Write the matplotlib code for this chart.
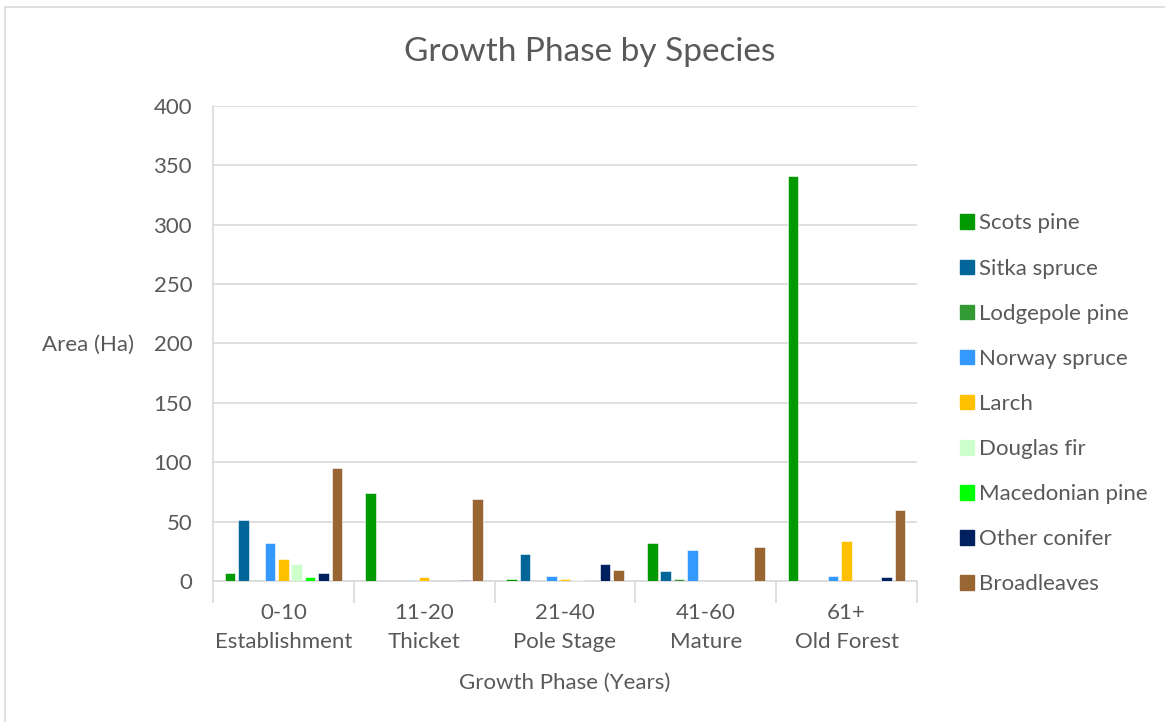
import matplotlib.pyplot as plt
import numpy as np
from matplotlib.patches import Rectangle

phases = ["0-10\nEstablishment", "11-20\nThicket", "21-40\nPole Stage", "41-60\nMature", "61+\nOld Forest"]
species = ["Scots pine", "Sitka spruce", "Lodgepole pine", "Norway spruce", "Larch",
           "Douglas fir", "Macedonian pine", "Other conifer", "Broadleaves"]
colours = ["#009900", "#006699", "#339933", "#3399FF", "#FFC000",
           "#CCFFCC", "#00FF00", "#002060", "#996633"]

# area (Ha) per species, one value per growth phase
scots_pine = [7, 74, 1.5, 32, 341]
sitka_spruce = [51, 0, 23, 8, 0]
lodgepole_pine = [1, 0, 0, 1.5, 0]
norway_spruce = [32, 0.5, 4, 26, 4]
larch = [18.5, 3.3, 1.8, 0, 34]
douglas_fir = [14, 0, 0.5, 0, 0.3]
macedonian_pine = [3.4, 0, 0, 0, 0]
other_conifer = [6.5, 1, 14, 0, 3.3]
broadleaves = [95, 69, 9, 29, 60]

values = [scots_pine, sitka_spruce, lodgepole_pine, norway_spruce, larch,
          douglas_fir, macedonian_pine, other_conifer, broadleaves]

plt.rcParams['font.family'] = ['Lato', 'DejaVu Sans']
text_col = "#595959"
grid_col = "#D9D9D9"
fs = 16

fig = plt.figure(figsize=(11.65, 7.22), dpi=100)
ax = fig.add_axes([0.1828, 0.1953, 0.6043, 0.6579])

x = np.arange(len(phases))
step = 0.095
width = 0.075
for i in range(len(species)):
    offset = (i - 4) * step
    ax.bar(x + offset, values[i], width, color=colours[i], label=species[i],
           edgecolor="white", linewidth=0.4, zorder=3)

ax.set_xlim(-0.5, len(phases) - 0.5)
ax.set_ylim(0, 400)
ax.set_yticks(range(0, 401, 50))
ax.yaxis.grid(True, color=grid_col, linewidth=1.2, zorder=0)
ax.tick_params(axis='y', length=0, colors=text_col, labelsize=fs, pad=15)

ax.set_xticks(x)
ax.set_xticklabels(phases, fontsize=fs, color=text_col, linespacing=1.55)
ax.tick_params(axis='x', length=0, pad=16)
ax.set_xticks(np.arange(-0.5, len(phases), 1), minor=True)
ax.tick_params(axis='x', which='minor', length=16, color=grid_col, width=1.2)

for side in ['top', 'right']:
    ax.spines[side].set_visible(False)
ax.spines['left'].set_color(grid_col)
ax.spines['left'].set_linewidth(1.2)
ax.spines['bottom'].set_color(grid_col)
ax.spines['bottom'].set_linewidth(1.2)

ax.set_xlabel("Growth Phase (Years)", fontsize=fs, color=text_col, labelpad=15)
fig.text(0.036, 0.522, "Area (Ha)", fontsize=fs, color=text_col, va='center', ha='left')
fig.text(0.506, 0.928, "Growth Phase by Species", fontsize=24, color=text_col, ha='center', va='center')

handles = [Rectangle((0, 0), 1, 1, color=c) for c in colours]
fig.legend(handles, species, loc='upper left', bbox_to_anchor=(0.807, 0.732),
           frameon=False, fontsize=fs, labelcolor=text_col, handlelength=0.63,
           handleheight=0.63, handletextpad=0.2, labelspacing=1.13)

fig.patches.append(Rectangle((5 / 1165, -0.01), 1.1, 1 - 7 / 722 + 0.01,
                             transform=fig.transFigure, fill=False,
                             edgecolor=grid_col, linewidth=1.2))

fig.savefig("out.png", dpi=100)
